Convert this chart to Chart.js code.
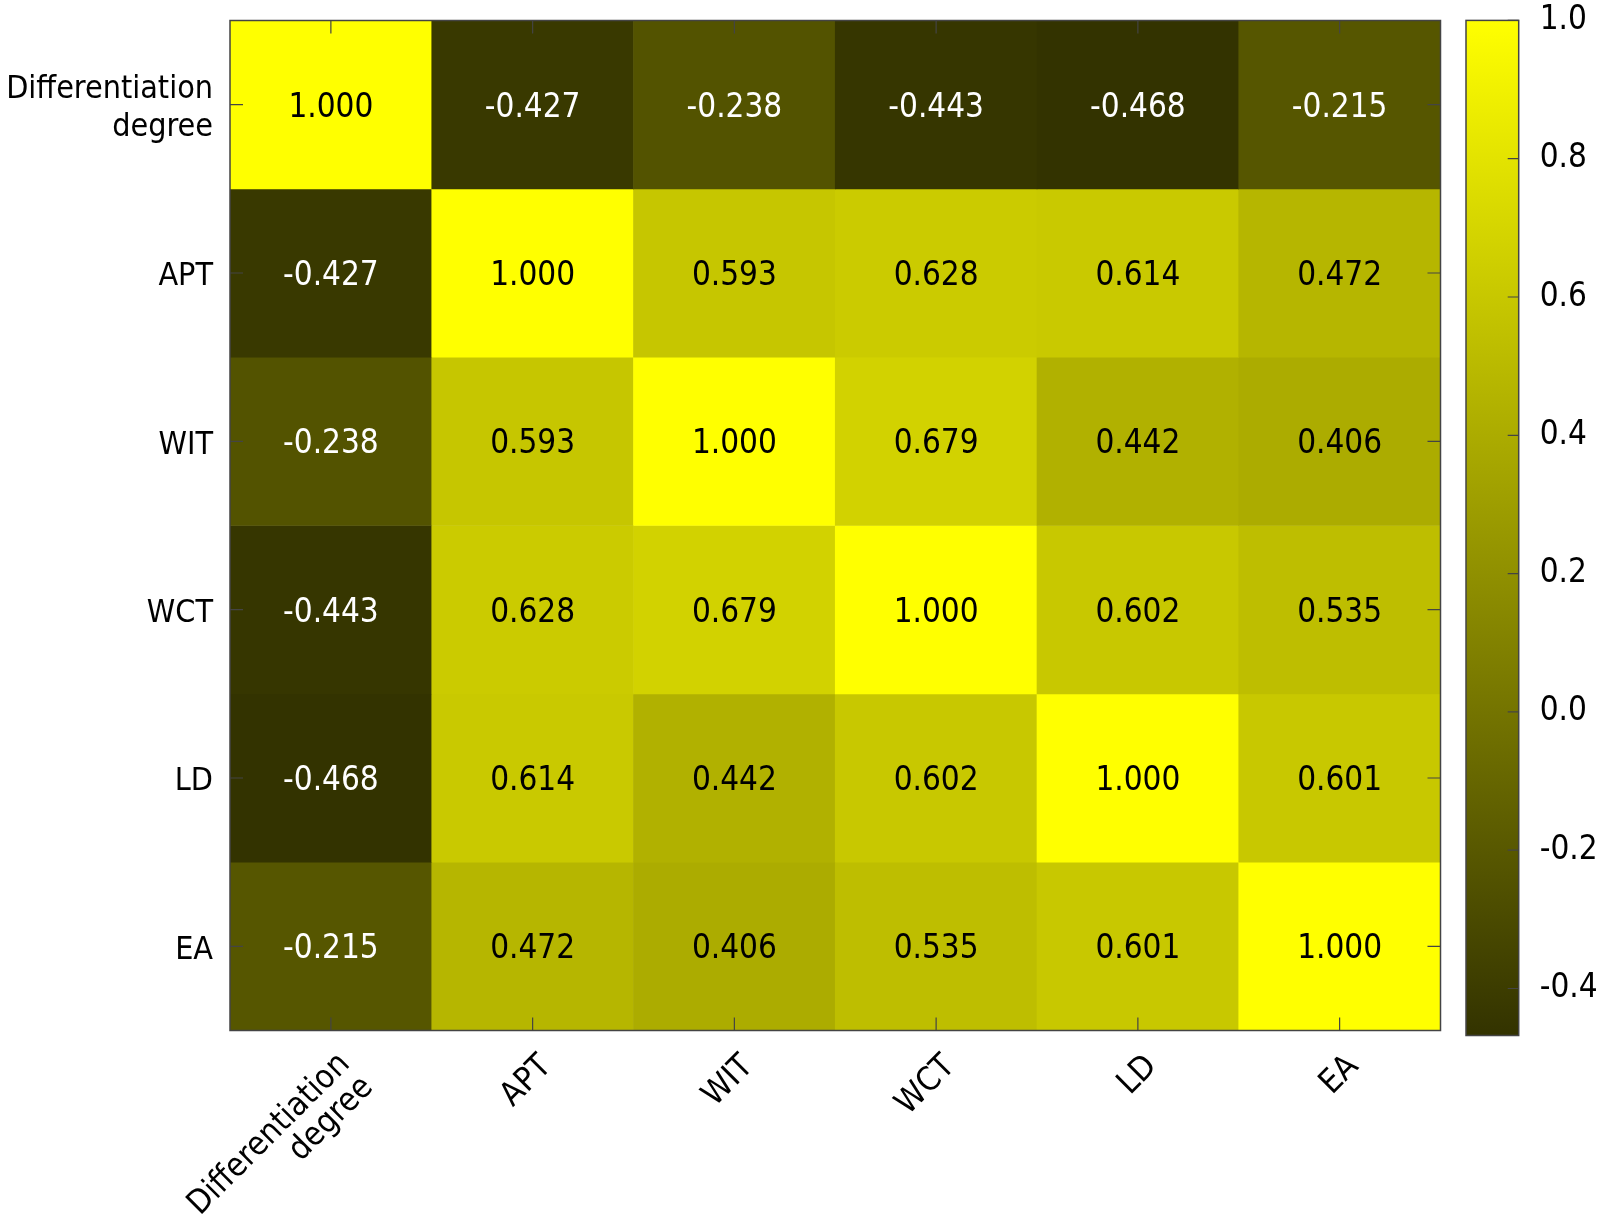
<!DOCTYPE html>
<html>
<head>
<meta charset="utf-8">
<script src="https://cdn.jsdelivr.net/npm/chart.js@4/dist/chart.umd.min.js"></script>
<style>
  html, body { margin: 0; padding: 0; background: #ffffff; }
  #wrap { position: relative; width: 1618px; height: 1223px; }
  canvas { position: absolute; top: 0; }
</style>
</head>
<body>
<div id="wrap">
  <canvas id="main" width="1618" height="1223" style="left:0;width:1618px;height:1223px"></canvas>
  <canvas id="cbar" width="178" height="1223" style="left:1440px;width:178px;height:1223px"></canvas>
</div>
<script>
// ---- data ----
const categories = [['Differentiation', 'degree'], 'APT', 'WIT', 'WCT', 'LD', 'EA'];
const rowDifferentiation = [1.000, -0.427, -0.238, -0.443, -0.468, -0.215];
const rowAPT = [-0.427, 1.000, 0.593, 0.628, 0.614, 0.472];
const rowWIT = [-0.238, 0.593, 1.000, 0.679, 0.442, 0.406];
const rowWCT = [-0.443, 0.628, 0.679, 1.000, 0.602, 0.535];
const rowLD = [-0.468, 0.614, 0.442, 0.602, 1.000, 0.601];
const rowEA = [-0.215, 0.472, 0.406, 0.535, 0.601, 1.000];
const colorbarTicks = [-0.4, -0.2, 0.0, 0.2, 0.4, 0.6, 0.8, 1.0];
const colorMin = -0.468;
const colorMax = 1.0;

const rows = [rowDifferentiation, rowAPT, rowWIT, rowWCT, rowLD, rowEA];

// ---- styling ----
const FONT = "'DejaVu Sans Condensed', 'DejaVu Sans', sans-serif";
const FS = 33;
Chart.defaults.font.family = FONT;
Chart.defaults.font.size = FS;
Chart.defaults.color = '#000000';
const LOW = [51, 51, 0], HIGH = [255, 255, 0];
function colorFor(v) {
  const t = Math.max(0, Math.min(1, (v - colorMin) / (colorMax - colorMin)));
  const c = LOW.map((lo, i) => Math.round(lo + (HIGH[i] - lo) * t));
  return `rgb(${c[0]},${c[1]},${c[2]})`;
}
const BORDER = '#444444';
const TICKLEN = 13;

function zeroPad(s) { s.paddingTop = 0; s.paddingBottom = 0; s.paddingLeft = 0; s.paddingRight = 0; }
const isMulti = (i) => Array.isArray(categories[i]);

const datasets = rows.map((vals, r) => ({
  label: 'row' + r,
  data: vals.map(() => [r - 0.5, r + 0.5]),
  backgroundColor: vals.map(colorFor),
  borderWidth: 0,
  barPercentage: 1,
  categoryPercentage: 1
}));

const heatPlugin = {
  id: 'heatPlugin',
  afterDatasetsDraw(chart) {
    const { ctx, chartArea: a } = chart;
    const xs = chart.scales.x, ys = chart.scales.y;
    ctx.save();
    ctx.font = `${FS}px ${FONT}`;
    ctx.textAlign = 'center';
    ctx.textBaseline = 'alphabetic';
    rows.forEach((vals, r) => {
      vals.forEach((v, c) => {
        const x = xs.getPixelForValue(c);
        const y = ys.getPixelForValue(r);
        ctx.fillStyle = v < 0 ? '#ffffff' : '#000000';
        ctx.fillText(v.toFixed(3), x, y + 12);
      });
    });
    // border
    ctx.strokeStyle = BORDER;
    ctx.lineWidth = 1.5;
    ctx.strokeRect(a.left, a.top, a.right - a.left, a.bottom - a.top);
    // inward ticks (all four sides)
    ctx.lineWidth = 1.2;
    ctx.beginPath();
    categories.forEach((_, i) => {
      const x = xs.getPixelForValue(i);
      ctx.moveTo(x, a.bottom); ctx.lineTo(x, a.bottom - TICKLEN);
      ctx.moveTo(x, a.top); ctx.lineTo(x, a.top + TICKLEN);
      const y = ys.getPixelForValue(i);
      ctx.moveTo(a.left, y); ctx.lineTo(a.left + TICKLEN, y);
      ctx.moveTo(a.right, y); ctx.lineTo(a.right - TICKLEN, y);
    });
    ctx.stroke();
    ctx.restore();
  }
};

new Chart(document.getElementById('main'), {
  type: 'bar',
  data: { labels: categories, datasets },
  options: {
    responsive: false,
    animation: false,
    events: [],
    layout: { padding: { top: 20.5, right: 177.5, left: 0, bottom: 0 } },
    plugins: { legend: { display: false }, tooltip: { enabled: false } },
    scales: {
      x: {
        type: 'category',
        stacked: true,
        offset: true,
        grid: { display: false, drawTicks: false, tickLength: 0 },
        border: { display: false },
        ticks: {
          autoSkip: false, maxRotation: 45, minRotation: 45,
          padding: 17, labelOffset: 14, color: '#000',
          font: (ctx) => ({ size: FS, lineHeight: isMulti(ctx.index) ? 1.0 : 1.2 })
        },
        afterFit(s) { s.height = 192.5; zeroPad(s); }
      },
      y: {
        type: 'linear',
        stacked: false,
        reverse: true,
        min: -0.5,
        max: categories.length - 0.5,
        grid: { display: false, drawTicks: false, tickLength: 0 },
        border: { display: false },
        afterBuildTicks(s) { s.ticks = categories.map((_, i) => ({ value: i })); },
        ticks: {
          autoSkip: false,
          padding: 17,
          labelOffset: 4,
          color: '#000',
          font: { size: 32 },
          callback: (v) => categories[v]
        },
        afterFit(s) { s.width = 230; zeroPad(s); }
      }
    }
  },
  plugins: [heatPlugin]
});

// ---- colour bar ----
const cbPlugin = {
  id: 'cbPlugin',
  afterDraw(chart) {
    const { ctx, chartArea: a } = chart;
    const ys = chart.scales.y;
    ctx.save();
    ctx.strokeStyle = BORDER;
    ctx.lineWidth = 1.5;
    ctx.strokeRect(a.left, a.top, a.right - a.left, a.bottom - a.top);
    ctx.lineWidth = 1.2;
    ctx.beginPath();
    colorbarTicks.forEach(v => {
      const y = ys.getPixelForValue(v);
      ctx.moveTo(a.right, y); ctx.lineTo(a.right - 11, y);
    });
    ctx.stroke();
    ctx.restore();
  }
};

new Chart(document.getElementById('cbar'), {
  type: 'bar',
  data: {
    labels: ['cb'],
    datasets: [{
      data: [[colorMin, colorMax]],
      backgroundColor(ctx) {
        const a = ctx.chart.chartArea;
        if (!a) return colorFor(colorMax);
        const g = ctx.chart.ctx.createLinearGradient(0, a.bottom, 0, a.top);
        g.addColorStop(0, colorFor(colorMin));
        g.addColorStop(1, colorFor(colorMax));
        return g;
      },
      borderWidth: 0,
      barPercentage: 1,
      categoryPercentage: 1
    }]
  },
  options: {
    responsive: false,
    animation: false,
    events: [],
    layout: { padding: { top: 20.4, left: 26, bottom: 187.5, right: 0 } },
    plugins: { legend: { display: false }, tooltip: { enabled: false } },
    scales: {
      x: { display: false, offset: true, afterFit(s) { s.height = 0; zeroPad(s); } },
      y: {
        type: 'linear',
        position: 'right',
        min: colorMin,
        max: colorMax,
        grid: { display: false, drawTicks: false, tickLength: 0 },
        border: { display: false },
        afterBuildTicks(s) { s.ticks = colorbarTicks.map(v => ({ value: v })); },
        ticks: { padding: 21, color: '#000', font: { size: FS }, callback: (v) => Number(v).toFixed(1) },
        afterFit(s) { s.width = 99.3; zeroPad(s); }
      }
    }
  },
  plugins: [cbPlugin]
});
</script>
</body>
</html>
